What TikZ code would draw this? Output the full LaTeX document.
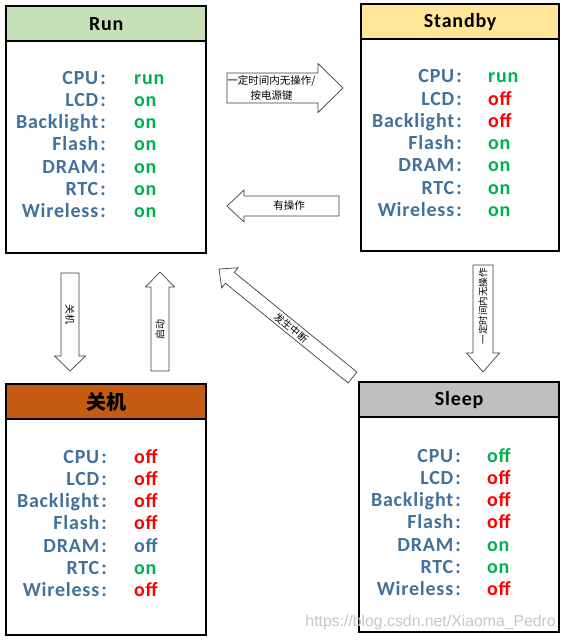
\documentclass[tikz,border=0pt]{standalone}
\usepackage{fontspec}
\setmainfont{Carlito}
\newfontfamily\cjk{Noto Sans CJK SC}
\newfontfamily\wmfont{Liberation Sans}
\definecolor{lblblue}{HTML}{41719C}
\definecolor{vgreen}{HTML}{00B050}
\definecolor{vred}{HTML}{FF0000}
\definecolor{hrun}{HTML}{C5E0B4}
\definecolor{hstandby}{HTML}{FFE699}
\definecolor{hoff}{HTML}{C55A11}
\definecolor{hsleep}{HTML}{BFBFBF}
\newcommand\txtfont{\bfseries\fontsize{20}{22}\selectfont\addfontfeature{LetterSpace=4}}
\tikzset{
  statebox/.style={draw=black, line width=2.4pt, fill=white, inner sep=0},
  hdrbox/.style={draw=black, line width=2.4pt, inner sep=0, font=\txtfont, text=black},
  lbl/.style={anchor=base east, inner sep=0, text=lblblue, font=\txtfont},
  val/.style={anchor=base west, inner sep=0, font=\txtfont},
  arrowline/.style={draw=black!75, line width=0.7pt, fill=white, line join=miter},
  arrtext/.style={inner sep=0, font=\cjk\fontsize{10.5}{15}\selectfont, text=black}
}
% #1 x, #2 y (tail centre), #3 angle, #4 length, #5 body width, #6 head width, #7 head length
\newcommand\blockarr[7]{%
  \begin{scope}[shift={(#1,#2)},rotate=#3]
    \draw[arrowline] (0,-#5/2) -- (#4-#7,-#5/2) -- (#4-#7,-#6/2) -- (#4,0)
      -- (#4-#7,#6/2) -- (#4-#7,#5/2) -- (0,#5/2) -- cycle;
  \end{scope}}
\begin{document}
\begin{tikzpicture}[x=1pt,y=-1pt]
\useasboundingbox (0,0) rectangle (565,640);
\fill[white] (0,0) rectangle (565,640);

% ---------- boxes ----------
\node[statebox, minimum width=200, minimum height=247, anchor=north west] (run) at (5,5) {};
\node[hdrbox, fill=hrun, minimum width=200, minimum height=35, anchor=north west] (runh) at (5,5) {Run};

\node[statebox, minimum width=198, minimum height=247, anchor=north west] (standby) at (360,3) {};
\node[hdrbox, fill=hstandby, minimum width=198, minimum height=35, anchor=north west] (standbyh) at (360,3) {Standby};

\node[statebox, minimum width=200, minimum height=251, anchor=north west] (off) at (5,383) {};
\node[hdrbox, fill=hoff, minimum width=200, minimum height=35, anchor=north west, font=\cjk\bfseries\fontsize{20}{22}\selectfont] (offh) at (5,383) {关机};

\node[statebox, minimum width=200, minimum height=250, anchor=north west] (sleep) at (358,381) {};
\node[hdrbox, fill=hsleep, minimum width=200, minimum height=35, anchor=north west] (sleeph) at (358,381) {Sleep};

% ---------- labels ----------
\foreach \bx/\cx/\by in {run/106/84, standby/462/82.7, off/107/463, sleep/461/462}{
  \foreach \l [count=\i from 0] in {CPU,LCD,Backlight,Flash,DRAM,RTC,Wireless}
    \node[lbl] (\bx l\i) at (\cx, \by+22.3*\i) {\l\kern2pt:};
}

% ---------- values ----------
\foreach \v/\c [count=\i from 0] in {run/vgreen,on/vgreen,on/vgreen,on/vgreen,on/vgreen,on/vgreen,on/vgreen}
  \node[val, text=\c] (runv\i) at (134, 84+22.3*\i) {\v};
\foreach \v/\c [count=\i from 0] in {run/vgreen,off/vred,off/vred,on/vgreen,on/vgreen,on/vgreen,on/vgreen}
  \node[val, text=\c] (standbyv\i) at (488, 82.7+22.3*\i) {\v};
\foreach \v/\c [count=\i from 0] in {off/vred,off/vred,off/vred,off/vred,off/lblblue,on/vgreen,off/vred}
  \node[val, text=\c] (offv\i) at (134, 463+22.3*\i) {\v};
\foreach \v/\c [count=\i from 0] in {off/vgreen,off/vred,off/vred,off/vred,on/vgreen,on/vgreen,off/vred}
  \node[val, text=\c] (sleepv\i) at (487, 462+22.3*\i) {\v};

% ---------- block arrows ----------
\blockarr{227}{88}{0}{116}{30}{49}{25}
\node[arrtext, align=center] (t1) at (271.5,88) {一定时间内无操作/\\按电源键};

\blockarr{339}{206}{180}{112}{20}{32}{17}
\node[arrtext] (t2) at (289,206) {有操作};

\blockarr{483}{265}{-90}{107}{20}{33}{19}
\node[arrtext, rotate=90, font=\cjk\fontsize{9.5}{12}\selectfont] (t3) at (483,306) {一定时间内无操作};

\blockarr{70}{273}{-90}{98}{18}{31}{15}
\node[arrtext, rotate=-90, font=\cjk\fontsize{10}{12}\selectfont] (t4) at (70,314) {关机};

\blockarr{160}{371}{90}{99}{18}{29}{15}
\node[arrtext, rotate=90, font=\cjk\fontsize{10}{12}\selectfont] (t5) at (160,329) {启动};

\blockarr{352.5}{377.5}{140.9}{172}{14}{26}{14}
\node[arrtext, rotate=-39.1, font=\cjk\fontsize{10}{12}\selectfont] (t6) at (291,328) {发生中断};

% ---------- watermark ----------
\node[inner sep=0, anchor=east, text=black!22, font=\wmfont\fontsize{15.8}{18}\selectfont] (wm) at (556,622) {https://blog.csdn.net/Xiaoma\_Pedro};
\end{tikzpicture}
\end{document}
